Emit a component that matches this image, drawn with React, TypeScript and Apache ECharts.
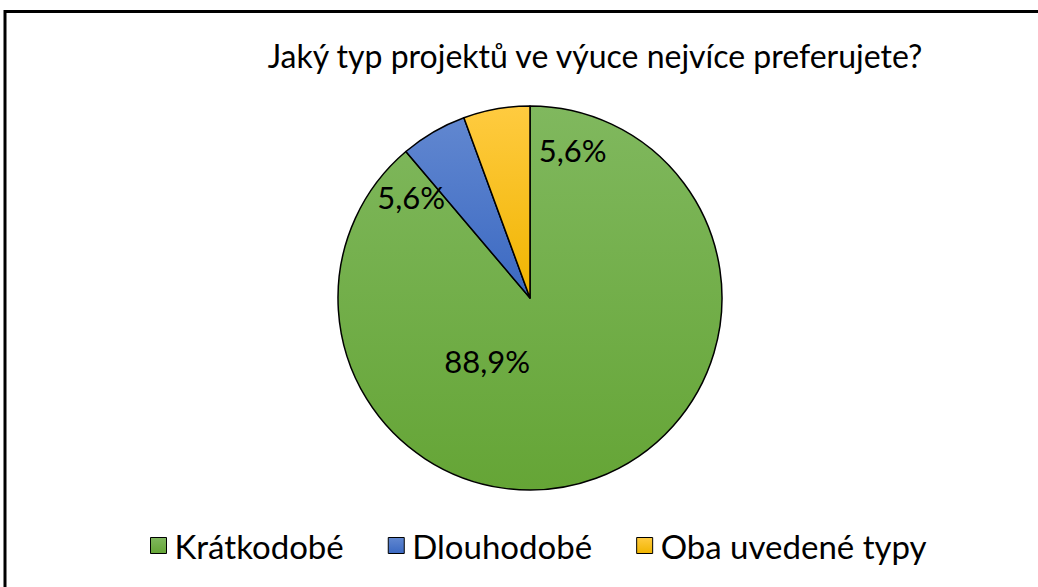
import React, { useEffect, useRef } from "react";
import * as echarts from "echarts";

const titleText = "Jaký typ projektů ve výuce nejvíce preferujete?";
const categories = ["Krátkodobé", "Dlouhodobé", "Oba uvedené typy"];
const values = [88.9, 5.6, 5.6];
const topColors = ["#80b85e", "#6187d0", "#ffcb40"];
const bottomColors = ["#65a536", "#3b69c2", "#f0b400"];
const labelOffsets = [
  [-77, -30],
  [-69, -15],
  [60, -51],
];

export default function App() {
  const ref = useRef<HTMLDivElement>(null);
  useEffect(() => {
    document.body.style.margin = "0";
    const chart = echarts.init(ref.current!, null, { renderer: "svg" });
    const font = "Lato, 'Noto Sans', sans-serif";
    chart.setOption({
      animation: false,
      backgroundColor: "#ffffff",
      title: {
        text: titleText,
        left: 590,
        textAlign: "center",
        top: 34,
        textStyle: { fontFamily: font, fontWeight: "normal", fontSize: 32, color: "#000" },
      },
      legend: {
        bottom: 20,
        left: 145,
        itemWidth: 16,
        itemHeight: 16,
        itemGap: 44,
        icon: "rect",
        itemStyle: { borderColor: "#000", borderWidth: 1 },
        textStyle: { fontFamily: font, fontSize: 33, color: "#000", padding: [0, 0, 0, 3] },
        data: categories,
      },
      graphic: [
        {
          type: "rect",
          shape: { x: 5, y: 11.5, width: 1200, height: 800 },
          style: { fill: "none", stroke: "#000", lineWidth: 3 },
          silent: true,
        },
      ],
      series: [
        {
          type: "pie",
          center: [530, 298],
          radius: 192,
          startAngle: 90,
          clockwise: true,
          label: {
            show: true,
            position: "inside",
            fontFamily: font,
            fontSize: 31,
            color: "#000",
            formatter: (p: any) => String(p.value.toFixed(1)).replace(".", ",") + "%",
          },
          labelLayout: (p: any) => ({
            dx: labelOffsets[p.dataIndex][0],
            dy: labelOffsets[p.dataIndex][1],
          }),
          labelLine: { show: false },
          itemStyle: { borderColor: "#000", borderWidth: 1.5 },
          emphasis: { disabled: true },
          data: categories.map((name, i) => ({
            name,
            value: values[i],
            itemStyle: {
              color: new echarts.graphic.LinearGradient(0, 0, 0, 1, [
                { offset: 0, color: topColors[i] },
                { offset: 1, color: bottomColors[i] },
              ]),
            },
          })),
        },
      ],
    });
    return () => chart.dispose();
  }, []);
  return <div ref={ref} style={{ width: 1038, height: 587 }} />;
}
